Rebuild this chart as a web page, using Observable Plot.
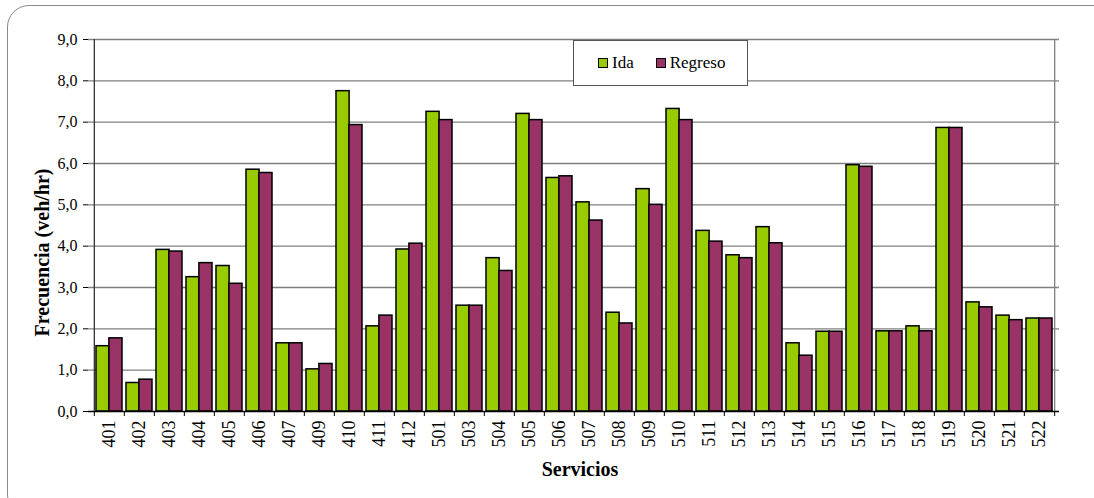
<!DOCTYPE html>
<html><head><meta charset="utf-8">
<script src="https://cdn.jsdelivr.net/npm/d3@7"></script>
<script src="https://cdn.jsdelivr.net/npm/@observablehq/plot@0.6"></script>
<style>
body{margin:0;background:#fff;font-family:"Liberation Serif","Times New Roman",serif;}
#wrap{position:relative;width:1094px;height:498px;overflow:hidden;}
#chart{position:absolute;left:0;top:0;}
#frame{position:absolute;left:7px;top:5px;width:1110px;height:510px;border:1.5px solid #8a8a8a;border-radius:22px;pointer-events:none;}
#legend{position:absolute;left:573px;top:40px;width:175px;height:46px;border:1.5px solid #555;background:#fff;display:flex;align-items:center;font-size:17px;padding-left:24px;box-sizing:border-box;font-family:"Liberation Serif","Times New Roman",serif;}
.item{display:flex;align-items:center;margin-right:22px;}
.sw{display:inline-block;width:8px;height:8px;border:1.3px solid #000;margin-right:4px;}
</style></head>
<body><div id="wrap"><div id="chart"></div><div id="frame"></div><div id="legend"></div></div>
<script>
const servicios = ["401","402","403","404","405","406","407","409","410","411","412","501","503","504","505","506","507","508","509","510","511","512","513","514","515","516","517","518","519","520","521","522"];
const ida =     [1.58,0.69,3.91,3.25,3.52,5.85,1.65,1.02,7.75,2.06,3.92,7.25,2.56,3.71,7.20,5.65,5.06,2.39,5.38,7.32,4.37,3.78,4.46,1.65,1.93,5.96,1.94,2.06,6.86,2.64,2.32,2.25];
const regreso = [1.77,0.77,3.87,3.59,3.09,5.77,1.65,1.15,6.93,2.32,4.06,7.05,2.56,3.40,7.05,5.69,4.62,2.13,5.00,7.05,4.11,3.71,4.07,1.35,1.93,5.92,1.94,1.94,6.86,2.52,2.21,2.25];
const series = ["Ida","Regreso"];
const colores = ["#99CC00","#993366"];
const yTicks = [0,1,2,3,4,5,6,7,8,9];
const yTitle = "Frecuencia (veh/hr)";
const xTitle = "Servicios";

const W = 1094, H = 498, ml = 88, mr = 35, mt = 39, mb = 87;
const pInner = 0.15;
const step = (W - ml - mr) / servicios.length;
const bw = step * (1 - pInner);
const fmt = d => d.toFixed(1).replace(".", ",");
const dIda = servicios.map((s, i) => ({s, v: ida[i]}));
const dReg = servicios.map((s, i) => ({s, v: regreso[i]}));
const last = servicios[servicios.length - 1];

const plot = Plot.plot({
  width: W, height: H,
  marginLeft: ml, marginRight: mr, marginTop: mt, marginBottom: mb,
  style: {fontFamily: "'Liberation Serif','Times New Roman',serif", fontSize: "16px", color: "#000", background: "transparent"},
  x: {type: "band", domain: servicios, paddingInner: pInner, paddingOuter: pInner / 2, axis: null},
  y: {domain: [0, 9], axis: null},
  marks: [
    Plot.gridY(yTicks.filter(d => d > 0), {stroke: "#808080", strokeOpacity: 1, strokeWidth: 1.3}),
    Plot.ruleX([last], {x: d => d, dx: step / 2, stroke: "#808080", strokeWidth: 1.3}),
    Plot.barY(dIda, {x: "s", y: "v", fill: colores[0], stroke: "#000", strokeWidth: 1.5, insetRight: bw / 2}),
    Plot.barY(dReg, {x: "s", y: "v", fill: colores[1], stroke: "#000", strokeWidth: 1.5, insetLeft: bw / 2}),
    Plot.ruleY([0], {stroke: "#000", strokeWidth: 1.3}),
    Plot.ruleX([servicios[0]], {x: d => d, dx: -step / 2, stroke: "#333", strokeWidth: 1.3}),
    Plot.axisY({ticks: yTicks, tickFormat: fmt, tickSize: 5, tickPadding: 6, fontSize: 16, label: null}),
    Plot.axisX({tickSize: 0, tickPadding: 9, tickRotate: -90, fontSize: 18, label: null}),
    Plot.axisX({tickSize: 5, fill: "none", dx: -step / 2, label: null}),
    Plot.axisX([last], {tickSize: 5, fill: "none", dx: step / 2, label: null}),
    Plot.text([yTitle], {frameAnchor: "left", textAnchor: "middle", dx: -46, dy: 27, rotate: -90, fontSize: 20, fontWeight: "bold"}),
    Plot.text([xTitle], {frameAnchor: "bottom", dx: 6, dy: 64, fontSize: 20, fontWeight: "bold"})
  ]
});
document.getElementById("chart").appendChild(plot);

const leg = document.getElementById("legend");
series.forEach((name, i) => {
  const it = document.createElement("span");
  it.className = "item";
  const sw = document.createElement("span");
  sw.className = "sw";
  sw.style.background = colores[i];
  it.appendChild(sw);
  it.appendChild(document.createTextNode(name));
  leg.appendChild(it);
});
</script>
</body></html>
